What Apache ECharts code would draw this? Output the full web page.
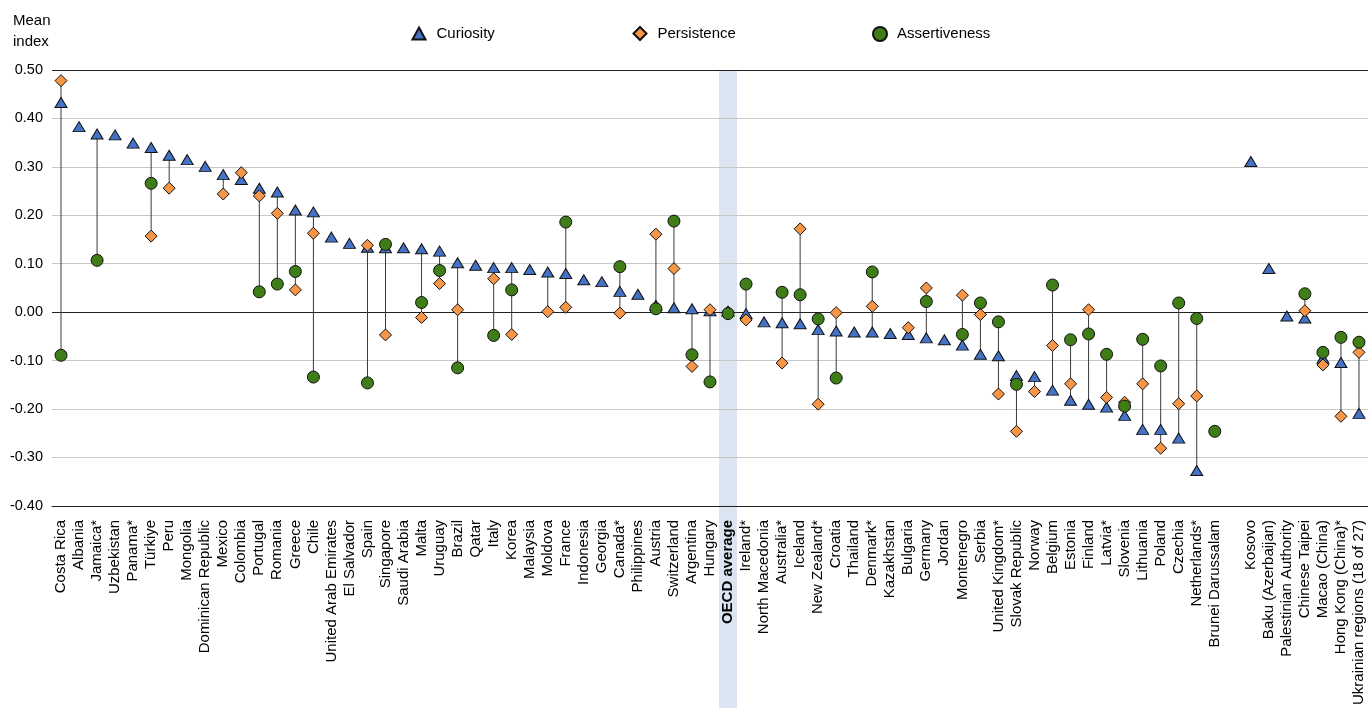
<!DOCTYPE html>
<html>
<head>
<meta charset="utf-8">
<script src="https://cdn.jsdelivr.net/npm/echarts@6/dist/echarts.min.js"></script>
<style>
html,body{margin:0;padding:0;background:#fff;}
#chart{width:1368px;height:708px;}
</style>
</head>
<body>
<div id="chart"></div>
<script>
const categories = [
  'Costa Rica','Albania','Jamaica*','Uzbekistan','Panama*','Türkiye','Peru','Mongolia','Dominican Republic','Mexico',
  'Colombia','Portugal','Romania','Greece','Chile','United Arab Emirates','El Salvador','Spain','Singapore','Saudi Arabia',
  'Malta','Uruguay','Brazil','Qatar','Italy','Korea','Malaysia','Moldova','France','Indonesia',
  'Georgia','Canada*','Philippines','Austria','Switzerland','Argentina','Hungary','OECD average','Ireland*','North Macedonia',
  'Australia*','Iceland','New Zealand*','Croatia','Thailand','Denmark*','Kazakhstan','Bulgaria','Germany','Jordan',
  'Montenegro','Serbia','United Kingdom*','Slovak Republic','Norway','Belgium','Estonia','Finland','Latvia*','Slovenia',
  'Lithuania','Poland','Czechia','Netherlands*','Brunei Darussalam','',
  'Kosovo','Baku (Azerbaijan)','Palestinian Authority','Chinese Taipei','Macao (China)','Hong Kong (China)*','Ukrainian regions (18 of 27)'
];

const curiosity = [
  0.433, 0.383, 0.368, 0.366, 0.349, 0.340, 0.324, 0.315, 0.301, 0.284,
  0.274, 0.256, 0.248, 0.211, 0.207, 0.155, 0.142, 0.134, 0.133, 0.133,
  0.131, 0.126, 0.102, 0.097, 0.092, 0.092, 0.088, 0.083, 0.080, 0.067,
  0.063, 0.043, 0.037, 0.014, 0.009, 0.007, 0.003, 0.002, -0.003, -0.020,
  -0.022, -0.024, -0.036, -0.039, -0.041, -0.041, -0.044, -0.046, -0.053, -0.057,
  -0.068, -0.087, -0.090, -0.131, -0.133, -0.161, -0.182, -0.190, -0.196, -0.213,
  -0.242, -0.242, -0.260, -0.327, null, null,
  0.311, 0.090, -0.008, -0.012, -0.095, -0.104, -0.209
];

const persistence = [
  0.478, null, null, null, null, 0.157, 0.256, null, null, 0.244,
  0.288, 0.240, 0.204, 0.046, 0.163, null, null, 0.138, -0.047, null,
  -0.011, 0.059, 0.005, null, 0.069, -0.046, null, 0.001, 0.010, null,
  null, -0.002, null, 0.161, 0.090, -0.112, 0.005, 0.000, -0.016, null,
  -0.105, 0.172, -0.190, -0.001, null, 0.012, null, -0.032, 0.050, null,
  0.035, -0.005, -0.169, -0.246, -0.164, -0.069, -0.148, 0.005, -0.176, -0.186,
  -0.148, -0.281, -0.189, -0.173, null, null,
  null, null, null, 0.003, -0.109, -0.215, -0.083
];

const assertiveness = [
  -0.089, null, 0.107, null, null, 0.266, null, null, null, null,
  null, 0.042, 0.058, 0.084, -0.134, null, null, -0.146, 0.140, null,
  0.020, 0.086, -0.115, null, -0.048, 0.046, null, null, 0.186, null,
  null, 0.094, null, 0.007, 0.188, -0.088, -0.144, -0.003, 0.058, null,
  0.041, 0.036, -0.014, -0.136, null, 0.083, null, null, 0.022, null,
  -0.046, 0.019, -0.020, -0.149, null, 0.056, -0.057, -0.045, -0.087, -0.194,
  -0.056, -0.111, 0.019, -0.013, -0.246, null,
  null, null, null, 0.038, -0.083, -0.052, -0.062
];

const yTicks = [-0.4, -0.3, -0.2, -0.1, 0, 0.1, 0.2, 0.3, 0.4, 0.5];
const highlightCategory = 'OECD average';

const FONT = "'Liberation Sans', Arial, sans-serif";

// connector ranges built from the series arrays
const ranges = categories.map((c, i) => {
  const vals = [curiosity[i], persistence[i], assertiveness[i]].filter(v => v !== null && v !== undefined);
  if (vals.length < 2) return [i, null, null];
  return [i, Math.min(...vals), Math.max(...vals)];
});
const bandIndex = categories.indexOf(highlightCategory);

const splitColors = yTicks.map(t => (Math.abs(t) < 1e-9 || t === yTicks[0] || t === yTicks[yTicks.length - 1]) ? '#222222' : '#c8c8c8');

const chart = echarts.init(document.getElementById('chart'));
const option = {
  animation: false,
  backgroundColor: '#ffffff',
  textStyle: { fontFamily: FONT },
  graphic: [{
    type: 'text', left: 13, top: 10, z: 10,
    style: { text: 'Mean\nindex', font: "15px 'Liberation Sans', Arial, sans-serif", fill: '#000', lineHeight: 21 }
  }],
  legend: [
    { data: ['Curiosity'], left: 406.5, top: 21, itemWidth: 13, itemHeight: 12,
      textStyle: { fontSize: 15, color: '#000', fontFamily: FONT, padding: [0, 0, 0, 6] } },
    { data: ['Persistence'], left: 627.5, top: 21, itemWidth: 13, itemHeight: 13,
      textStyle: { fontSize: 15, color: '#000', fontFamily: FONT, padding: [0, 0, 0, 6] } },
    { data: ['Assertiveness'], left: 867, top: 21, itemWidth: 14, itemHeight: 14,
      textStyle: { fontSize: 15, color: '#000', fontFamily: FONT, padding: [0, 0, 0, 5] } }
  ],
  grid: { left: 52, right: 0, top: 70, bottom: 197, containLabel: false },
  xAxis: {
    type: 'category',
    data: categories.map(c => c === highlightCategory ? { value: c, textStyle: { fontWeight: 'bold' } } : c),
    axisLine: { show: true, onZero: false, lineStyle: { color: '#222', width: 1 } },
    axisTick: { show: false },
    splitLine: { show: false },
    axisLabel: { interval: 0, rotate: 90, margin: 14, fontSize: 15, color: '#000', fontFamily: FONT }
  },
  yAxis: {
    type: 'value', min: -0.4, max: 0.5, interval: 0.1,
    axisLine: { show: false }, axisTick: { show: false },
    axisLabel: { formatter: v => v.toFixed(2), fontSize: 14.5, color: '#000', margin: 9, fontFamily: FONT },
    splitLine: { show: true, lineStyle: { color: splitColors, width: 1 } }
  },
  series: [
    {
      type: 'custom', name: 'band', z: -1, clip: false, silent: true,
      data: [[bandIndex]],
      renderItem: (params, api) => {
        const top = api.coord([api.value(0), 0.5]);
        const w = api.size([1, 0])[0];
        return { type: 'rect', shape: { x: top[0] - w / 2, y: top[1], width: w, height: api.getHeight() - top[1] },
                 style: { fill: '#dbe5f1' } };
      }
    },
    {
      type: 'custom', name: 'range', z: 1, clip: false, silent: true,
      data: ranges,
      renderItem: (params, api) => {
        const lo = api.value(1), hi = api.value(2);
        if (lo === null || isNaN(lo)) return null;
        const a = api.coord([api.value(0), hi]);
        const b = api.coord([api.value(0), lo]);
        return { type: 'line', shape: { x1: a[0], y1: a[1], x2: b[0], y2: b[1] },
                 style: { stroke: '#3a3a3a', lineWidth: 1 } };
      }
    },
    {
      type: 'scatter', name: 'Curiosity', data: curiosity, z: 3,
      symbol: 'triangle', symbolSize: [12, 10],
      itemStyle: { color: '#4472c4', borderColor: '#111', borderWidth: 1, opacity: 1 }
    },
    {
      type: 'scatter', name: 'Persistence', data: persistence, z: 4,
      symbol: 'diamond', symbolSize: [12, 12],
      itemStyle: { color: '#f79646', borderColor: '#111', borderWidth: 1, opacity: 1 }
    },
    {
      type: 'scatter', name: 'Assertiveness', data: assertiveness, z: 5,
      symbol: 'circle', symbolSize: 12,
      itemStyle: { color: '#3f7d17', borderColor: '#111', borderWidth: 1, opacity: 1 }
    }
  ]
};
chart.setOption(option);
</script>
</body>
</html>
